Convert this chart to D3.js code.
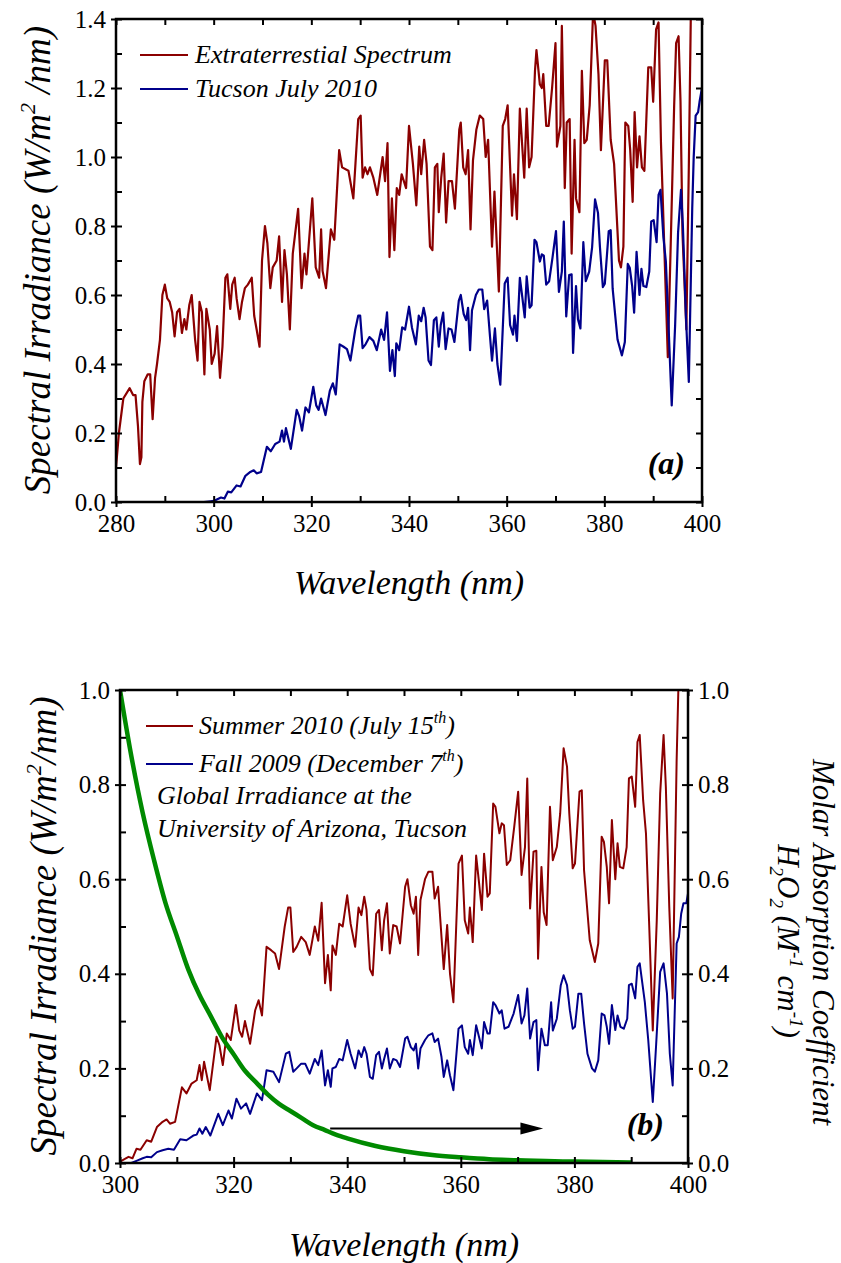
<!DOCTYPE html>
<html>
<head>
<meta charset="utf-8">
<script src="https://cdn.jsdelivr.net/npm/d3@7"></script>
<style>
body { margin: 0; background: #fff; }
svg text { font-family: "Liberation Serif", "Times New Roman", Times, "Noto Serif", "Nimbus Roman", FreeSerif, "DejaVu Serif", serif; fill: #000; }
.axis path.domain { display: none; }
.axis line { stroke: #000; stroke-width: 2; }
.axis text { font-family: "Liberation Serif", "Times New Roman", Times, "Noto Serif", "Nimbus Roman", FreeSerif, "DejaVu Serif", serif; font-size: 25px; fill: #000; }
.ital { font-style: italic; }
</style>
</head>
<body>
<svg width="841" height="1263"></svg>
<script>
// extraterrestrial spectrum (panel a, red)
var etrWl = [280,280.6,281.5,282.8,283.5,284,284.5,284.9,285.2,285.4,285.8,286.5,287,287.5,288,288.4,289,289.5,290,290.5,291,291.5,292,292.5,293,293.5,294,294.4,295,295.5,296.2,296.7,297.1,297.6,298.1,298.5,299.2,299.6,300.2,300.7,301.3,301.8,302.4,302.8,303.4,303.8,304.3,304.7,305.3,305.8,306.4,307,307.8,308.3,308.8,309.4,309.9,310.5,311,311.6,312.1,312.9,313.4,314,314.5,315,315.6,316.2,317.3,318,318.6,319,320.2,320.9,321.6,322,322.3,323,324,324.7,325.7,326.3,327.6,328.6,329.6,330.1,330.5,331,331.5,332,332.7,333.5,334.6,335.1,335.6,336,336.5,337,337.5,338,338.5,339.4,340,340.8,341.5,342.1,342.5,343.1,343.6,344.3,344.8,345.3,345.8,346.1,346.6,347.1,347.6,348.1,348.8,349.4,350.3,350.6,351.1,351.6,352.1,352.6,353.1,353.8,354.5,355.2,355.7,356.2,357,357.5,358.4,359.2,359.7,360.2,361.1,361.5,362.1,362.7,363.6,364.1,364.6,365.1,365.8,366.1,366.8,367.2,367.5,368.1,368.6,369.3,370,370.3,371,371.3,371.9,372.3,372.9,373.3,373.9,374.2,374.9,375.4,375.9,376.4,377,377.7,378.2,378.8,379.3,380.1,380.6,381.3,382,383,383.4,383.9,384.3,384.9,385.3,385.8,386.2,386.7,387.2,387.7,388.2,389,389.6,390,390.6,391.1,391.6,392.3,393,393.6,394.3,394.7,395.2,395.6,396,396.8,397.3,397.7,398.2,400];
var etrVal = [0.10,0.20,0.30,0.33,0.31,0.31,0.22,0.11,0.13,0.29,0.35,0.37,0.37,0.24,0.36,0.40,0.47,0.60,0.63,0.59,0.58,0.55,0.48,0.55,0.56,0.49,0.53,0.50,0.57,0.60,0.47,0.41,0.58,0.55,0.37,0.56,0.50,0.40,0.43,0.51,0.36,0.45,0.65,0.66,0.56,0.63,0.65,0.59,0.53,0.58,0.62,0.63,0.65,0.54,0.50,0.45,0.70,0.80,0.75,0.62,0.68,0.70,0.77,0.58,0.73,0.66,0.50,0.72,0.85,0.62,0.72,0.66,0.88,0.68,0.65,0.79,0.67,0.62,0.79,0.76,1.02,0.97,0.96,0.88,1.11,1.12,0.94,0.97,0.95,0.97,0.94,0.89,1.00,0.93,1.04,0.71,0.88,0.73,0.91,0.89,0.95,0.91,1.09,0.98,0.86,1.03,0.95,1.05,0.98,0.74,0.73,0.97,0.98,0.84,0.94,1.01,0.81,0.93,0.93,0.85,1.08,1.10,0.97,0.95,1.02,0.79,0.99,1.08,1.12,1.11,1.00,1.05,0.74,0.90,0.61,1.09,1.11,1.15,0.83,0.95,0.82,1.14,0.94,1.14,0.97,1.00,1.25,1.31,1.21,1.20,1.24,1.09,1.09,1.20,1.33,1.03,1.09,1.38,0.91,1.10,1.11,0.72,1.05,0.88,0.84,1.25,1.04,1.05,1.15,1.42,1.38,1.24,1.02,1.28,1.28,1.05,0.98,0.70,0.68,0.74,1.10,1.09,1.02,0.87,1.13,0.97,1.06,0.97,0.96,1.26,1.26,1.16,1.37,1.39,1.04,0.73,0.42,0.75,1.15,1.33,1.35,1.16,0.78,0.50,0.97,1.40,1.55,1.60];

// Tucson July 15th 2010 (panel a blue, panel b red)
var julWl = [295,298,299.4,300,301.5,302.2,302.9,303.6,304.7,305.5,306.5,307.5,308.2,308.8,309.7,310.9,311.7,312.6,313.5,314,314.4,314.8,315.8,317,317.5,318.1,318.8,319.5,320.4,321,321.5,322,322.9,323.8,324.4,325,325.8,326.6,327.3,328,329,329.6,330,330.5,331.1,331.9,332.7,333.4,334.3,334.9,335.5,336.1,336.6,337.1,337.4,338,338.6,339.2,340,340.6,341.4,342,342.5,343,343.4,344,344.5,345.1,345.6,346.1,346.5,347,347.5,348.1,348.7,349.3,350.2,350.6,351.2,351.7,352.1,352.5,352.9,353.7,354.3,355,355.4,356,356.6,357,357.6,358.1,358.7,359.6,360.2,360.7,361.3,361.6,362.1,362.7,363.2,363.7,364.1,364.7,365.1,365.7,366.1,366.8,367.2,367.6,368.1,368.7,369.4,370.1,370.7,371.3,371.7,372.2,372.8,373.3,373.6,374.2,374.6,375.1,375.7,376.2,376.9,377.5,378.1,378.7,379.1,379.7,380.1,380.9,381.3,381.7,382.7,383.6,384.2,384.8,385.2,385.7,386.1,386.6,387.2,387.6,388,388.6,389.2,389.6,390.1,390.7,391.1,391.5,392.1,392.6,393.2,393.8,394.5,395.1,395.7,396.1,396.7,397.3,398,398.3,398.7,399.2,399.5,400];
var julVal = [0,0,0.002,0.003,0.013,0.01,0.03,0.028,0.048,0.045,0.076,0.087,0.092,0.083,0.087,0.16,0.147,0.168,0.175,0.207,0.175,0.214,0.154,0.267,0.249,0.207,0.274,0.26,0.334,0.28,0.267,0.30,0.252,0.323,0.344,0.312,0.457,0.45,0.443,0.41,0.50,0.54,0.54,0.446,0.457,0.478,0.467,0.44,0.50,0.47,0.55,0.38,0.44,0.365,0.46,0.44,0.506,0.50,0.566,0.506,0.457,0.54,0.524,0.563,0.535,0.41,0.397,0.527,0.535,0.45,0.513,0.549,0.443,0.503,0.50,0.464,0.584,0.60,0.545,0.527,0.563,0.44,0.556,0.60,0.616,0.616,0.559,0.584,0.478,0.41,0.503,0.40,0.34,0.633,0.65,0.513,0.485,0.54,0.467,0.65,0.594,0.535,0.654,0.563,0.57,0.76,0.753,0.697,0.718,0.714,0.63,0.64,0.71,0.785,0.609,0.668,0.813,0.538,0.658,0.66,0.432,0.626,0.53,0.503,0.753,0.64,0.668,0.739,0.877,0.838,0.739,0.623,0.633,0.785,0.788,0.619,0.471,0.425,0.464,0.69,0.679,0.626,0.549,0.725,0.60,0.676,0.626,0.623,0.668,0.813,0.817,0.753,0.89,0.905,0.767,0.697,0.492,0.28,0.513,0.781,0.905,0.795,0.542,0.348,0.852,1.0,1.12,1.13,1.16,1.2];

// Tucson December 7th 2009 (panel b blue)
var decWl = [300,302,303,304,304.7,305.5,306.5,307.5,308.5,309.5,310.6,311.7,312.9,313.5,314,314.5,315.1,315.9,317.3,318.1,319.1,319.7,320.5,321.3,322.2,322.9,324.1,325,325.8,327,328,329.2,329.8,330.5,331.1,331.9,332.6,333.4,334.3,334.9,335.5,336.1,336.6,337.1,337.4,338,338.6,339.2,340,340.6,341.4,342,342.5,343,343.4,344,344.5,345.1,345.6,346.1,346.5,347,347.5,348.1,348.7,349.3,350.2,350.6,351.2,351.7,352.1,352.5,352.9,353.7,354.3,355,355.4,356,356.6,357,357.6,358.1,358.7,359.6,360.2,360.7,361.3,361.6,362.1,362.7,363.2,363.7,364.1,364.7,365.1,365.7,366.1,366.8,367.2,367.7,368.4,369.3,370.1,370.7,371.2,371.7,372.2,372.8,373.3,373.6,374.2,374.8,375.3,375.9,376.2,376.9,377.6,378.1,378.7,379.2,379.7,380.1,380.7,381.2,381.7,382.3,383.1,383.6,384.2,384.8,385.3,385.7,386.1,386.6,387.2,387.6,388.1,388.7,389.3,389.6,390.1,390.7,391.1,391.5,392.4,393,393.8,394.4,395.1,395.7,396.3,396.8,397.3,398,398.4,398.8,399.2,399.7,400];
var decVal = [0,0,0.005,0.01,0.013,0.012,0.023,0.027,0.03,0.028,0.05,0.048,0.058,0.06,0.073,0.062,0.076,0.058,0.104,0.08,0.111,0.094,0.136,0.115,0.126,0.104,0.147,0.133,0.196,0.193,0.171,0.231,0.235,0.193,0.20,0.21,0.21,0.189,0.22,0.207,0.238,0.164,0.196,0.161,0.20,0.203,0.22,0.217,0.26,0.231,0.20,0.238,0.224,0.245,0.231,0.182,0.178,0.228,0.235,0.20,0.22,0.242,0.20,0.22,0.217,0.203,0.263,0.267,0.245,0.238,0.252,0.20,0.242,0.26,0.27,0.274,0.256,0.263,0.224,0.182,0.217,0.185,0.154,0.284,0.291,0.245,0.231,0.26,0.228,0.291,0.267,0.242,0.298,0.274,0.274,0.34,0.334,0.316,0.323,0.284,0.288,0.316,0.355,0.295,0.312,0.369,0.263,0.298,0.302,0.196,0.284,0.249,0.249,0.34,0.28,0.305,0.376,0.397,0.376,0.323,0.284,0.288,0.358,0.358,0.295,0.231,0.20,0.193,0.217,0.316,0.312,0.288,0.252,0.334,0.281,0.312,0.288,0.284,0.305,0.376,0.379,0.348,0.415,0.422,0.34,0.26,0.129,0.252,0.404,0.422,0.358,0.231,0.164,0.464,0.478,0.527,0.549,0.549,0.57];

// H2O2 molar absorption (panel b, right axis)
var h2o2Wl = [300,302,304,306,308,310,312,314,316,318,320,322,324,326,328,330,332,334,336,338,340,345,350,355,360,365,370,375,380,385,390];
var h2o2Val = [1.0,0.86,0.74,0.64,0.55,0.48,0.41,0.355,0.31,0.265,0.23,0.195,0.17,0.145,0.125,0.11,0.095,0.08,0.07,0.06,0.052,0.036,0.025,0.017,0.012,0.008,0.006,0.004,0.003,0.002,0.001];

var xTicksA = d3.range(280, 401, 20);
var xTicksB = d3.range(300, 401, 20);
var yTicksA = [0, 0.2, 0.4, 0.6, 0.8, 1.0, 1.2, 1.4];
var yTicksB = [0, 0.2, 0.4, 0.6, 0.8, 1.0];

var red = "#8b0000", blue = "#00008b", green = "#008a00";
var svg = d3.select("svg");

var xa = d3.scaleLinear().domain([280, 400]).range([116, 702]);
var ya = d3.scaleLinear().domain([0, 1.4]).range([502, 19]);
var xb = d3.scaleLinear().domain([300, 400]).range([120, 688]);
var yb = d3.scaleLinear().domain([0, 1]).range([1163, 690]);
var yb2 = d3.scaleLinear().domain([0, 1]).range([1163, 690]);

function pairs(wl, val) {
  return wl.map(function(w, i) { return [w, val[i]]; });
}

function clip(id, x, y) {
  svg.append("clipPath").attr("id", id)
    .append("rect")
    .attr("x", x.range()[0]).attr("y", y.range()[1])
    .attr("width", x.range()[1] - x.range()[0])
    .attr("height", y.range()[0] - y.range()[1]);
}

function series(x, y, data, color, w, clipId) {
  svg.append("path")
    .datum(data)
    .attr("clip-path", "url(#" + clipId + ")")
    .attr("fill", "none")
    .attr("stroke", color)
    .attr("stroke-width", w)
    .attr("stroke-linejoin", "round")
    .attr("d", d3.line().x(function(d) { return x(d[0]); }).y(function(d) { return y(d[1]); }));
}

function frame(x, y, xMajor, yMajor, yMax, rightLabels) {
  var x0 = x.range()[0], x1 = x.range()[1], y0 = y.range()[0], y1 = y.range()[1];
  var xMinor = d3.range(x.domain()[0], x.domain()[1] + 1, 10);
  var yMinor = d3.range(0, Math.round(yMax * 10) + 1).map(function(i) { return i / 10; });

  // inward ticks on all four sides
  svg.append("g").attr("class", "axis").attr("transform", "translate(0," + y0 + ")")
    .call(d3.axisBottom(x).tickValues(xMinor).tickSize(-6).tickFormat(""));
  svg.append("g").attr("class", "axis").attr("transform", "translate(0," + y1 + ")")
    .call(d3.axisTop(x).tickValues(xMinor).tickSize(-6).tickFormat(""));
  svg.append("g").attr("class", "axis").attr("transform", "translate(" + x0 + ",0)")
    .call(d3.axisLeft(y).tickValues(yMinor).tickSize(-6).tickFormat(""));
  svg.append("g").attr("class", "axis").attr("transform", "translate(" + x1 + ",0)")
    .call(d3.axisRight(y).tickValues(yMinor).tickSize(-6).tickFormat(""));

  // outward major ticks with labels
  svg.append("g").attr("class", "axis").attr("transform", "translate(0," + y0 + ")")
    .call(d3.axisBottom(x).tickValues(xMajor).tickSize(5).tickPadding(7).tickFormat(d3.format("d")));
  svg.append("g").attr("class", "axis").attr("transform", "translate(" + x0 + ",0)")
    .call(d3.axisLeft(y).tickValues(yMajor).tickSize(5).tickPadding(5).tickFormat(d3.format(".1f")));
  if (rightLabels) {
    svg.append("g").attr("class", "axis").attr("transform", "translate(" + x1 + ",0)")
      .call(d3.axisRight(y).tickValues(yMajor).tickSize(5).tickPadding(5).tickFormat(d3.format(".1f")));
  }

  svg.append("rect")
    .attr("x", x0).attr("y", y1)
    .attr("width", x1 - x0).attr("height", y0 - y1)
    .attr("fill", "none").attr("stroke", "#000").attr("stroke-width", 2.5);
}

function legendLine(x1, x2, y, color) {
  svg.append("line").attr("x1", x1).attr("x2", x2).attr("y1", y).attr("y2", y)
    .attr("stroke", color).attr("stroke-width", 2);
}

function label(x, y, size) {
  return svg.append("text").attr("class", "ital")
    .attr("x", x).attr("y", y).style("font-size", size + "px");
}

// ---------- panel (a) ----------
clip("clipA", xa, ya);
series(xa, ya, pairs(etrWl, etrVal), red, 2.2, "clipA");
series(xa, ya, pairs(julWl, julVal), blue, 2.2, "clipA");
frame(xa, ya, xTicksA, yTicksA, 1.4, false);

legendLine(140, 188, 55, red);
label(195, 63, 26).text("Extraterrestial Spectrum");
legendLine(140, 188, 89, blue);
label(195, 97, 26).text("Tucson July 2010");

svg.append("text").attr("x", 685).attr("y", 474)
  .attr("text-anchor", "end")
  .style("font-size", "32px").style("font-weight", "bold").style("font-style", "italic")
  .text("(a)");

label(409, 594, 34).attr("text-anchor", "middle").text("Wavelength (nm)");

var ta = svg.append("text").attr("class", "ital")
  .attr("transform", "translate(50,260) rotate(-90)")
  .attr("text-anchor", "middle").style("font-size", "37px");
ta.append("tspan").text("Spectral Irradiance (W/m");
ta.append("tspan").attr("dy", -15).style("font-size", "22px").text("2");
ta.append("tspan").attr("dy", 15).text(" /nm)");

// ---------- panel (b) ----------
clip("clipB", xb, yb);
series(xb, yb, pairs(julWl, julVal).filter(function(d) { return d[0] >= 300; }), red, 2, "clipB");
series(xb, yb, pairs(decWl, decVal), blue, 2, "clipB");
svg.append("path")
  .datum(pairs(h2o2Wl, h2o2Val))
  .attr("clip-path", "url(#clipB)")
  .attr("fill", "none").attr("stroke", green).attr("stroke-width", 4.5)
  .attr("d", d3.line().curve(d3.curveMonotoneX)
    .x(function(d) { return xb(d[0]); }).y(function(d) { return yb2(d[1]); }));
frame(xb, yb, xTicksB, yTicksB, 1.0, true);

// arrow
svg.append("line")
  .attr("x1", xb(337)).attr("x2", xb(371.5)).attr("y1", yb(0.073)).attr("y2", yb(0.073))
  .attr("stroke", "#000").attr("stroke-width", 2);
svg.append("path")
  .attr("d", "M" + xb(374.5) + "," + yb(0.073) + "L" + xb(370.5) + "," + (yb(0.073) - 6) +
    "L" + xb(370.5) + "," + (yb(0.073) + 6) + "Z")
  .attr("fill", "#000");

legendLine(146, 193, 726, red);
var l1 = label(199, 734, 26);
l1.append("tspan").text("Summer 2010 (July 15");
l1.append("tspan").attr("dy", -11).style("font-size", "16px").text("th");
l1.append("tspan").attr("dy", 11).text(")");
legendLine(146, 193, 764, blue);
var l2 = label(199, 772, 26);
l2.append("tspan").text("Fall 2009 (December 7");
l2.append("tspan").attr("dy", -11).style("font-size", "16px").text("th");
l2.append("tspan").attr("dy", 11).text(")");
label(157, 804, 26).text("Global Irradiance at the");
label(157, 837, 26).text("University of Arizona, Tucson");

svg.append("text").attr("x", 664).attr("y", 1135)
  .attr("text-anchor", "end")
  .style("font-size", "32px").style("font-weight", "bold").style("font-style", "italic")
  .text("(b)");

label(404, 1256, 34).attr("text-anchor", "middle").text("Wavelength (nm)");

var tb = svg.append("text").attr("class", "ital")
  .attr("transform", "translate(56,926) rotate(-90)")
  .attr("text-anchor", "middle").style("font-size", "37px");
tb.append("tspan").text("Spectral Irradiance (W/m");
tb.append("tspan").attr("dy", -15).style("font-size", "22px").text("2");
tb.append("tspan").attr("dy", 15).text("/nm)");

svg.append("text").attr("class", "ital")
  .attr("transform", "translate(813,942) rotate(90)")
  .attr("text-anchor", "middle").style("font-size", "31px")
  .text("Molar Absorption Coefficient");

var tr = svg.append("text").attr("class", "ital")
  .attr("transform", "translate(778,941) rotate(90)")
  .attr("text-anchor", "middle").style("font-size", "31px");
tr.append("tspan").text("H");
tr.append("tspan").attr("dy", 8).style("font-size", "19px").text("2");
tr.append("tspan").attr("dy", -8).text("O");
tr.append("tspan").attr("dy", 8).style("font-size", "19px").text("2");
tr.append("tspan").attr("dy", -8).text(" (M");
tr.append("tspan").attr("dy", -12).style("font-size", "19px").text("-1");
tr.append("tspan").attr("dy", 12).text(" cm");
tr.append("tspan").attr("dy", -12).style("font-size", "19px").text("-1");
tr.append("tspan").attr("dy", 12).text(")");
</script>
</body>
</html>
